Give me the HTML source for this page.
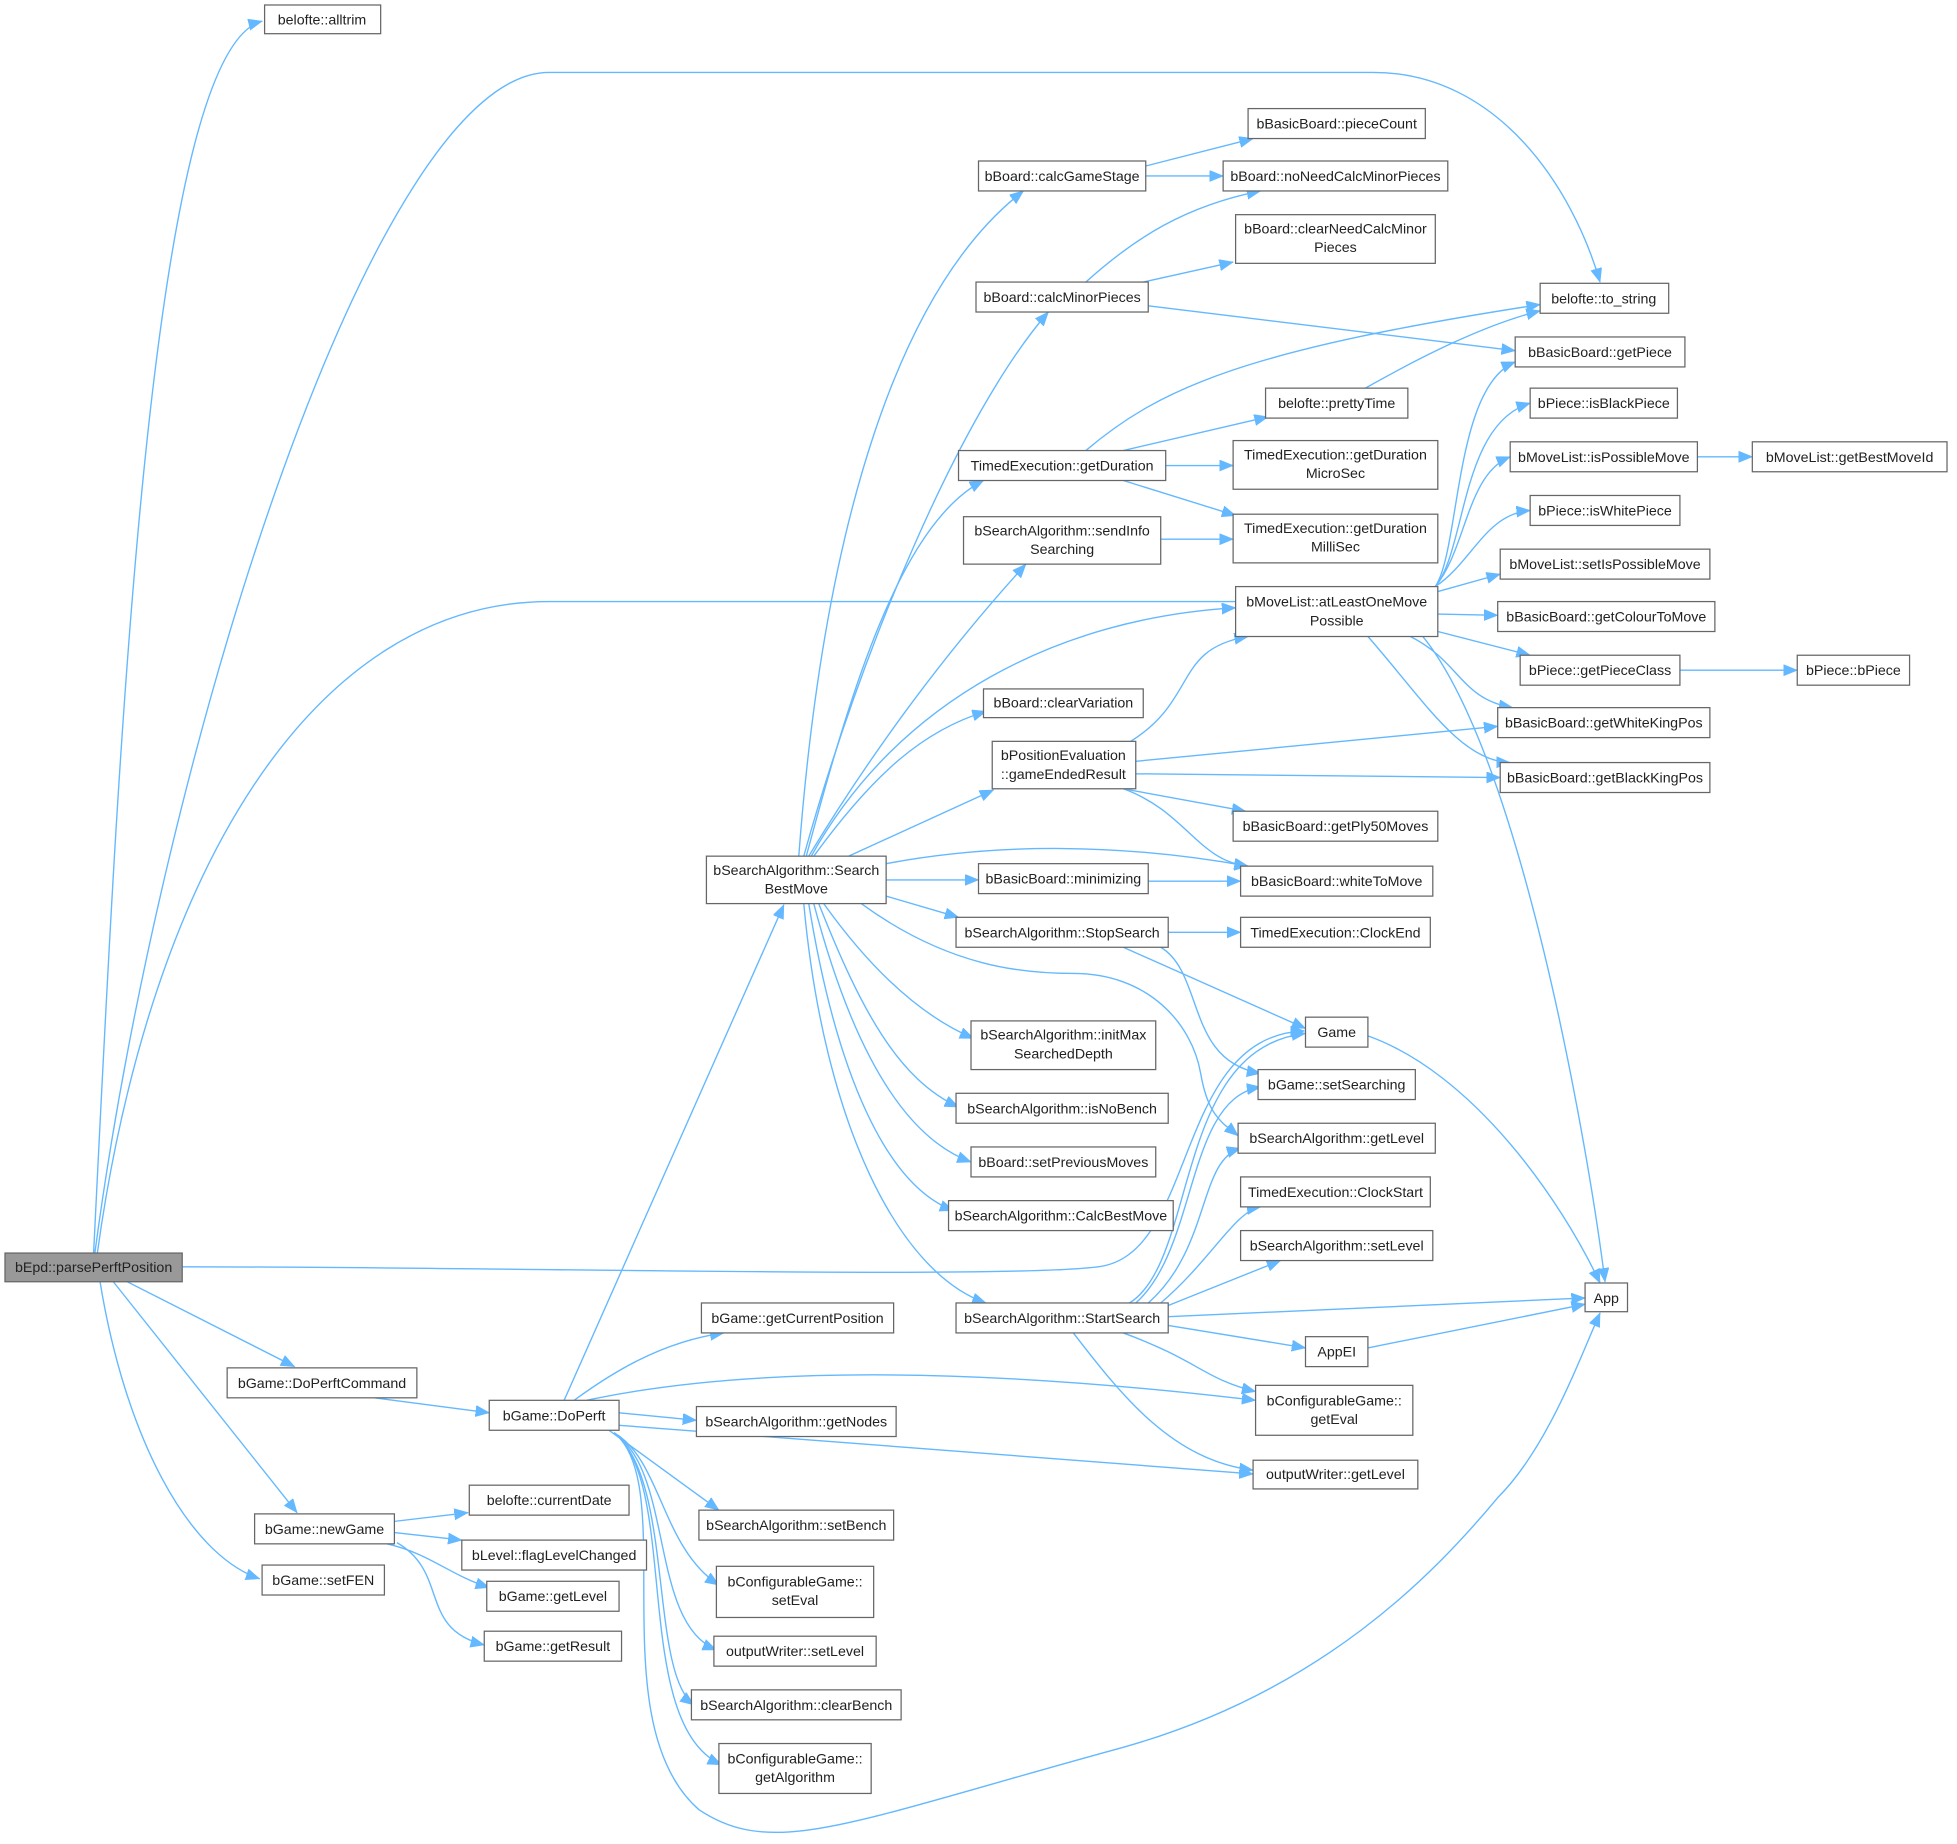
<!DOCTYPE html>
<html><head><meta charset="utf-8">
<style>
html,body{margin:0;padding:0;background:#fff;}
svg{display:block;}
text{font-family:"Liberation Sans",sans-serif;font-size:11.4px;fill:#222;text-anchor:middle;}
rect{fill:#fff;stroke:#666;stroke-width:1;}
path{fill:none;stroke:#63b8ff;stroke-width:1.1;}
</style></head>
<body>
<svg width="1957" height="1844" viewBox="0 0 1568 1477.5" preserveAspectRatio="none" xmlns="http://www.w3.org/2000/svg">
<defs>
<marker id="a" markerUnits="userSpaceOnUse" markerWidth="12" markerHeight="10" refX="11" refY="4.5" orient="auto">
<path d="M0,0 L11,4.5 L0,9 Z" style="fill:#63b8ff;stroke:#63b8ff;stroke-width:0.5"/>
</marker>
</defs>
<g marker-end="url(#a)">
<path d="M75,1004 C 95,600 120,40 210,17"/>
<path d="M76,1004 C 130,600 300,58 440,58 L 1100,58 C 1200,58 1260,150 1282,226"/>
<path d="M78,1004 C 120,700 250,482 440,482 L 1100,482 C 1200,500 1270,900 1286,1027"/>
<path d="M146,1015 C 400,1015 800,1025 880,1015 C 960,1005 940,830 1045,826"/>
<path d="M100,1026 L 236,1095"/>
<path d="M90,1026 L 238,1212"/>
<path d="M80,1026 C 100,1150 150,1245 208,1265"/>
<path d="M300,1120 L 392,1132"/>
<path d="M316,1219 L 375,1212"/>
<path d="M316,1228 L 370,1234"/>
<path d="M310,1237 C 345,1245 360,1262 392,1272"/>
<path d="M318,1236 C 360,1260 335,1305 388,1318"/>
<path d="M452,1122 L 628,725"/>
<path d="M460,1122 C 490,1100 530,1075 580,1068"/>
<path d="M496,1132 L 558,1138"/>
<path d="M470,1122 C 620,1090 820,1100 1006,1122"/>
<path d="M496,1142 L 1004,1181"/>
<path d="M488,1146 L 576,1210"/>
<path d="M492,1148 C 530,1170 530,1240 576,1270"/>
<path d="M492,1148 C 540,1180 520,1300 574,1322"/>
<path d="M492,1148 C 540,1185 520,1340 556,1366"/>
<path d="M492,1148 C 545,1190 505,1380 578,1414"/>
<path d="M492,1148 C 545,1190 480,1380 560,1450 C 620,1490 680,1460 900,1400 C 1060,1355 1150,1260 1200,1200 C 1240,1160 1265,1090 1282,1052"/>
<path d="M640,686 C 660,420 720,230 820,153"/>
<path d="M644,686 C 690,520 770,330 840,250"/>
<path d="M646,686 C 680,560 720,420 788,385"/>
<path d="M648,686 C 700,600 760,520 822,452"/>
<path d="M650,686 C 720,560 850,495 990,487"/>
<path d="M652,686 C 700,620 740,585 790,570"/>
<path d="M680,686 L 796,633"/>
<path d="M710,692 C 800,675 900,676 1000,694"/>
<path d="M710,705 L 784,705"/>
<path d="M710,718 L 768,735"/>
<path d="M690,724 C 760,775 820,780 860,780 C 920,780 955,820 962,860 C 968,895 980,900 992,910"/>
<path d="M660,724 C 700,780 740,815 780,832"/>
<path d="M656,724 C 690,810 720,865 768,887"/>
<path d="M652,724 C 680,830 720,910 778,931"/>
<path d="M648,724 C 670,860 710,950 764,970"/>
<path d="M644,724 C 660,900 720,1020 790,1044"/>
<path d="M918,133 L 1004,111"/>
<path d="M918,141 L 980,141"/>
<path d="M870,226 C 910,190 950,165 1010,153"/>
<path d="M916,226 L 988,210"/>
<path d="M920,245 L 1214,281"/>
<path d="M870,361 C 930,310 1000,280 1234,244"/>
<path d="M900,361 L 1016,334"/>
<path d="M934,373 L 988,373"/>
<path d="M900,385 L 990,413"/>
<path d="M930,432 L 988,432"/>
<path d="M1094,311 C 1140,285 1190,260 1234,249"/>
<path d="M1150,470 C 1170,440 1165,310 1214,290"/>
<path d="M1150,470 C 1175,440 1170,340 1226,323"/>
<path d="M1150,470 C 1175,440 1175,380 1210,366"/>
<path d="M1150,470 C 1180,450 1190,412 1226,409"/>
<path d="M1152,474 L 1202,460"/>
<path d="M1152,492 L 1200,493"/>
<path d="M1152,506 L 1226,525"/>
<path d="M1130,510 C 1170,530 1170,560 1212,567"/>
<path d="M1096,510 C 1140,560 1170,610 1210,611"/>
<path d="M1360,366 L 1404,366"/>
<path d="M1346,537 L 1440,537"/>
<path d="M906,594 C 960,560 940,520 1000,510"/>
<path d="M910,610 L 1200,582"/>
<path d="M910,620 L 1202,623"/>
<path d="M900,632 L 998,650"/>
<path d="M900,632 C 950,650 960,690 1000,694"/>
<path d="M920,706 L 994,706"/>
<path d="M936,747 L 994,747"/>
<path d="M900,759 L 1046,824"/>
<path d="M930,759 C 965,780 950,850 1010,860"/>
<path d="M1096,830 C 1180,860 1250,960 1282,1028"/>
<path d="M905,1044 C 960,1010 940,840 1046,828"/>
<path d="M910,1044 C 960,1000 950,880 1010,871"/>
<path d="M920,1044 C 970,1000 960,930 994,920"/>
<path d="M930,1044 C 970,1010 990,970 1010,967"/>
<path d="M936,1046 L 1026,1010"/>
<path d="M936,1055 L 1270,1040"/>
<path d="M936,1062 L 1046,1080"/>
<path d="M900,1068 C 960,1090 965,1105 1006,1115"/>
<path d="M860,1068 C 900,1120 940,1170 1004,1178"/>
<path d="M1096,1080 L 1270,1045"/>
</g>
<rect x="4" y="1004" width="142" height="23" style="fill:#999"/><text x="75" y="1019">bEpd::parsePerftPosition</text>
<rect x="212" y="4" width="93" height="23"/><text x="258" y="19.5">belofte::alltrim</text>
<rect x="1234" y="227" width="103" height="24"/><text x="1285" y="243">belofte::to_string</text>
<rect x="1000" y="87" width="142" height="24"/><text x="1071" y="103">bBasicBoard::pieceCount</text>
<rect x="784" y="129" width="134" height="24"/><text x="851" y="145">bBoard::calcGameStage</text>
<rect x="980" y="129" width="180" height="24"/><text x="1070" y="145">bBoard::noNeedCalcMinorPieces</text>
<rect x="990" y="172" width="160" height="39"/><text x="1070" y="187">bBoard::clearNeedCalcMinor</text><text x="1070" y="202">Pieces</text>
<rect x="782" y="226" width="138" height="24"/><text x="851" y="242">bBoard::calcMinorPieces</text>
<rect x="1214" y="270" width="136" height="24"/><text x="1282" y="286">bBasicBoard::getPiece</text>
<rect x="1014" y="311" width="114" height="24"/><text x="1071" y="327">belofte::prettyTime</text>
<rect x="1226" y="311" width="118" height="24"/><text x="1285" y="327">bPiece::isBlackPiece</text>
<rect x="768" y="361" width="166" height="24"/><text x="851" y="377">TimedExecution::getDuration</text>
<rect x="988" y="353" width="164" height="39"/><text x="1070" y="368">TimedExecution::getDuration</text><text x="1070" y="383">MicroSec</text>
<rect x="1210" y="354" width="150" height="24"/><text x="1285" y="370">bMoveList::isPossibleMove</text>
<rect x="1404" y="354" width="156" height="24"/><text x="1482" y="370">bMoveList::getBestMoveId</text>
<rect x="772" y="414" width="158" height="38"/><text x="851" y="429">bSearchAlgorithm::sendInfo</text><text x="851" y="444">Searching</text>
<rect x="988" y="412" width="164" height="39"/><text x="1070" y="427">TimedExecution::getDuration</text><text x="1070" y="442">MilliSec</text>
<rect x="1226" y="397" width="120" height="24"/><text x="1286" y="413">bPiece::isWhitePiece</text>
<rect x="990" y="470" width="162" height="40"/><text x="1071" y="486">bMoveList::atLeastOneMove</text><text x="1071" y="501">Possible</text>
<rect x="1202" y="440" width="168" height="24"/><text x="1286" y="456">bMoveList::setIsPossibleMove</text>
<rect x="1200" y="482" width="174" height="24"/><text x="1287" y="498">bBasicBoard::getColourToMove</text>
<rect x="1218" y="525" width="128" height="24"/><text x="1282" y="541">bPiece::getPieceClass</text>
<rect x="1440" y="525" width="90" height="24"/><text x="1485" y="541">bPiece::bPiece</text>
<rect x="788" y="552" width="128" height="23"/><text x="852" y="567">bBoard::clearVariation</text>
<rect x="795" y="594" width="115" height="38"/><text x="852" y="609">bPositionEvaluation</text><text x="852" y="624">::gameEndedResult</text>
<rect x="1200" y="567" width="170" height="24"/><text x="1285" y="583">bBasicBoard::getWhiteKingPos</text>
<rect x="1202" y="611" width="168" height="24"/><text x="1286" y="627">bBasicBoard::getBlackKingPos</text>
<rect x="988" y="650" width="164" height="24"/><text x="1070" y="666">bBasicBoard::getPly50Moves</text>
<rect x="566" y="686" width="144" height="38"/><text x="638" y="701">bSearchAlgorithm::Search</text><text x="638" y="716">BestMove</text>
<rect x="784" y="692" width="136" height="24"/><text x="852" y="708">bBasicBoard::minimizing</text>
<rect x="994" y="694" width="154" height="24"/><text x="1071" y="710">bBasicBoard::whiteToMove</text>
<rect x="766" y="735" width="170" height="24"/><text x="851" y="751">bSearchAlgorithm::StopSearch</text>
<rect x="994" y="735" width="152" height="24"/><text x="1070" y="751">TimedExecution::ClockEnd</text>
<rect x="778" y="818" width="148" height="39"/><text x="852" y="833">bSearchAlgorithm::initMax</text><text x="852" y="848">SearchedDepth</text>
<rect x="1046" y="815" width="50" height="24"/><text x="1071" y="831">Game</text>
<rect x="1008" y="857" width="126" height="24"/><text x="1071" y="873">bGame::setSearching</text>
<rect x="766" y="876" width="170" height="24"/><text x="851" y="892">bSearchAlgorithm::isNoBench</text>
<rect x="992" y="900" width="158" height="24"/><text x="1071" y="916">bSearchAlgorithm::getLevel</text>
<rect x="778" y="919" width="148" height="24"/><text x="852" y="935">bBoard::setPreviousMoves</text>
<rect x="994" y="943" width="152" height="24"/><text x="1070" y="959">TimedExecution::ClockStart</text>
<rect x="760" y="962" width="180" height="24"/><text x="850" y="978">bSearchAlgorithm::CalcBestMove</text>
<rect x="994" y="986" width="154" height="24"/><text x="1071" y="1002">bSearchAlgorithm::setLevel</text>
<rect x="1270" y="1028" width="34" height="23"/><text x="1287" y="1044">App</text>
<rect x="766" y="1044" width="170" height="24"/><text x="851" y="1060">bSearchAlgorithm::StartSearch</text>
<rect x="562" y="1044" width="154" height="24"/><text x="639" y="1060">bGame::getCurrentPosition</text>
<rect x="1046" y="1071" width="50" height="24"/><text x="1071" y="1087">AppEI</text>
<rect x="182" y="1096" width="152" height="24"/><text x="258" y="1112">bGame::DoPerftCommand</text>
<rect x="1006" y="1110" width="126" height="40"/><text x="1069" y="1126">bConfigurableGame::</text><text x="1069" y="1141">getEval</text>
<rect x="558" y="1127" width="160" height="24"/><text x="638" y="1143">bSearchAlgorithm::getNodes</text>
<rect x="392" y="1122" width="104" height="24"/><text x="444" y="1138">bGame::DoPerft</text>
<rect x="1004" y="1170" width="132" height="23"/><text x="1070" y="1185">outputWriter::getLevel</text>
<rect x="376" y="1190" width="128" height="24"/><text x="440" y="1206">belofte::currentDate</text>
<rect x="560" y="1210" width="156" height="24"/><text x="638" y="1226">bSearchAlgorithm::setBench</text>
<rect x="370" y="1234" width="148" height="24"/><text x="444" y="1250">bLevel::flagLevelChanged</text>
<rect x="204" y="1213" width="112" height="24"/><text x="260" y="1229">bGame::newGame</text>
<rect x="210" y="1254" width="98" height="24"/><text x="259" y="1270">bGame::setFEN</text>
<rect x="390" y="1267" width="106" height="24"/><text x="443" y="1283">bGame::getLevel</text>
<rect x="574" y="1255" width="126" height="41"/><text x="637" y="1271">bConfigurableGame::</text><text x="637" y="1286">setEval</text>
<rect x="388" y="1307" width="110" height="24"/><text x="443" y="1323">bGame::getResult</text>
<rect x="572" y="1311" width="130" height="24"/><text x="637" y="1327">outputWriter::setLevel</text>
<rect x="554" y="1354" width="168" height="24"/><text x="638" y="1370">bSearchAlgorithm::clearBench</text>
<rect x="576" y="1397" width="122" height="40"/><text x="637" y="1413">bConfigurableGame::</text><text x="637" y="1428">getAlgorithm</text>
</svg>
</body></html>
